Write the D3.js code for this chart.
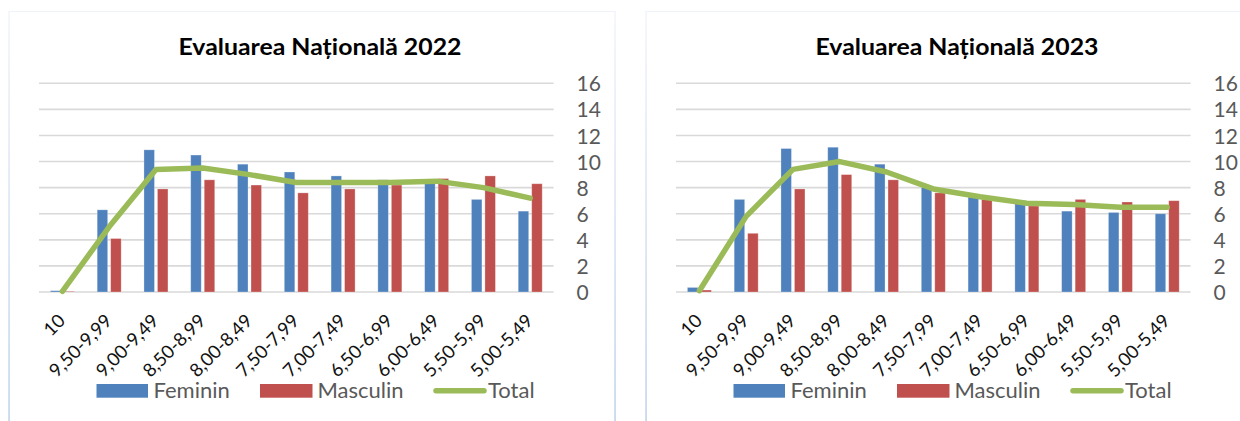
<!DOCTYPE html>
<html>
<head>
<meta charset="utf-8">
<script src="https://cdn.jsdelivr.net/npm/d3@7"></script>
<style>
  html, body { margin: 0; padding: 0; background: #ffffff; }
  svg { display: block; }
</style>
</head>
<body>
<svg id="chart" width="1240" height="421"></svg>
<script>
// ---------- DATA ----------
const categories = ["10","9,50-9,99","9,00-9,49","8,50-8,99","8,00-8,49","7,50-7,99","7,00-7,49","6,50-6,99","6,00-6,49","5,50-5,99","5,00-5,49"];
const yTicks = [0, 2, 4, 6, 8, 10, 12, 14, 16];
const seriesNames = ["Feminin", "Masculin", "Total"];

const title2022 = "Evaluarea Națională 2022";
const feminin2022  = [0.1, 6.3, 10.9, 10.5, 9.8, 9.2, 8.9, 8.6, 8.6, 7.1, 6.2];
const masculin2022 = [0.05, 4.1, 7.9, 8.6, 8.2, 7.6, 7.9, 8.2, 8.7, 8.9, 8.3];
const total2022    = [0.05, 5.0, 9.4, 9.5, 9.0, 8.4, 8.4, 8.4, 8.5, 8.0, 7.2];

const title2023 = "Evaluarea Națională 2023";
const feminin2023  = [0.35, 7.1, 11.0, 11.1, 9.8, 8.0, 7.3, 6.8, 6.2, 6.1, 6.0];
const masculin2023 = [0.15, 4.5, 7.9, 9.0, 8.6, 7.6, 7.1, 6.6, 7.1, 6.9, 7.0];
const total2023    = [0.1, 5.8, 9.4, 10.0, 9.2, 7.9, 7.3, 6.8, 6.7, 6.5, 6.5];

// ---------- STYLE ----------
const COLORS = { Feminin: "#4F81BD", Masculin: "#C0504D", Total: "#9BBB59" };
const FONT = "Lato, 'Open Sans', 'DejaVu Sans', sans-serif";
const TEXT_GRAY = "#595959";

const svg = d3.select("#chart");
const defs = svg.append("defs");
const grad = defs.append("linearGradient").attr("id", "borderGrad")
  .attr("x1", 0).attr("y1", 0).attr("x2", 0).attr("y2", 1);
grad.append("stop").attr("offset", "0%").attr("stop-color", "#f1f4fa");
grad.append("stop").attr("offset", "100%").attr("stop-color", "#bcd0ea");

function drawChart(ox, boxW, title, fem, masc, tot) {
  const g = svg.append("g").attr("transform", `translate(${ox},0)`);

  // chart area border
  g.append("line").attr("x1", 9).attr("x2", 9 + boxW).attr("y1", 11.5).attr("y2", 11.5)
    .attr("stroke", "#eef2f9").attr("stroke-width", 1.2);
  g.append("rect").attr("x", 8.3).attr("y", 11).attr("width", 1.5).attr("height", 420)
    .attr("fill", "url(#borderGrad)");
  g.append("rect").attr("x", 8.3 + boxW).attr("y", 11).attr("width", 1.5).attr("height", 420)
    .attr("fill", "url(#borderGrad)");

  const x0 = d3.scaleBand().domain(categories).range([39, 553.6]).padding(0);
  const x1 = d3.scaleBand().domain(["Feminin", "Masculin"])
    .range([x0.bandwidth() / 2 - 12, x0.bandwidth() / 2 + 12]).paddingInner(0.222);
  const y = d3.scaleLinear().domain([0, 16]).range([292, 83.3]);

  // title
  g.append("text").attr("x", 320).attr("y", 55)
    .attr("text-anchor", "middle")
    .attr("font-family", FONT).attr("font-weight", "bold").attr("font-size", 23)
    .attr("textLength", 283).attr("lengthAdjust", "spacingAndGlyphs")
    .attr("fill", "#000").text(title);

  // gridlines
  g.append("g").selectAll("line").data(yTicks).join("line")
    .attr("x1", 39).attr("x2", 553.6)
    .attr("y1", d => y(d)).attr("y2", d => y(d))
    .attr("stroke", "#d9d9d9").attr("stroke-width", 1.6);

  // right axis
  const axis = d3.axisRight(y).tickValues(yTicks).tickSize(0).tickPadding(0);
  const ag = g.append("g").attr("transform", "translate(576.5,0)").call(axis);
  ag.select(".domain").remove();
  ag.selectAll("text").attr("font-family", FONT).attr("font-size", 21)
    .attr("fill", TEXT_GRAY).attr("dy", "0.36em");

  // bars
  const rows = categories.map((c, i) => ({ cat: c, vals: [{ k: "Feminin", v: fem[i] }, { k: "Masculin", v: masc[i] }] }));
  const bg = g.append("g").selectAll("g").data(rows).join("g")
    .attr("transform", d => `translate(${x0(d.cat)},0)`);
  bg.selectAll("rect").data(d => d.vals).join("rect")
    .attr("x", d => x1(d.k)).attr("width", x1.bandwidth())
    .attr("y", d => y(d.v)).attr("height", d => y(0) - y(d.v))
    .attr("fill", d => COLORS[d.k])
    .attr("stroke", "rgba(255,255,255,0.35)").attr("stroke-width", 0.8);

  // total line
  const line = d3.line()
    .x((d, i) => x0(categories[i]) + x0.bandwidth() / 2)
    .y(d => y(d));
  g.append("path").datum(tot).attr("d", line)
    .attr("fill", "none").attr("stroke", COLORS.Total).attr("stroke-width", 5.5)
    .attr("stroke-linejoin", "round").attr("stroke-linecap", "round");

  // x labels
  g.append("g").selectAll("text").data(categories).join("text")
    .attr("transform", d => `translate(${x0(d) + x0.bandwidth() / 2 + 4},322) rotate(-45)`)
    .attr("text-anchor", "end")
    .attr("font-family", FONT).attr("font-size", 18.5)
    .attr("fill", "#111").text(d => d);

  // legend
  const lg = g.append("g");
  lg.append("rect").attr("x", 96.5).attr("y", 384).attr("width", 51.5).attr("height", 13.7).attr("fill", COLORS.Feminin);
  lg.append("text").attr("x", 153.5).attr("y", 398).attr("font-family", FONT).attr("font-size", 22)
    .attr("fill", TEXT_GRAY).text(seriesNames[0]);
  lg.append("rect").attr("x", 260).attr("y", 384).attr("width", 52.5).attr("height", 13.7).attr("fill", COLORS.Masculin);
  lg.append("text").attr("x", 317.5).attr("y", 398).attr("font-family", FONT).attr("font-size", 22)
    .attr("fill", TEXT_GRAY).text(seriesNames[1]);
  lg.append("line").attr("x1", 436).attr("x2", 484).attr("y1", 390.8).attr("y2", 390.8)
    .attr("stroke", COLORS.Total).attr("stroke-width", 5.5).attr("stroke-linecap", "round");
  lg.append("text").attr("x", 488).attr("y", 398).attr("font-family", FONT).attr("font-size", 22)
    .attr("fill", TEXT_GRAY).text(seriesNames[2]);
}

drawChart(0, 606, title2022, feminin2022, masculin2022, total2022);
drawChart(637, 640, title2023, feminin2023, masculin2023, total2023);
</script>
</body>
</html>
